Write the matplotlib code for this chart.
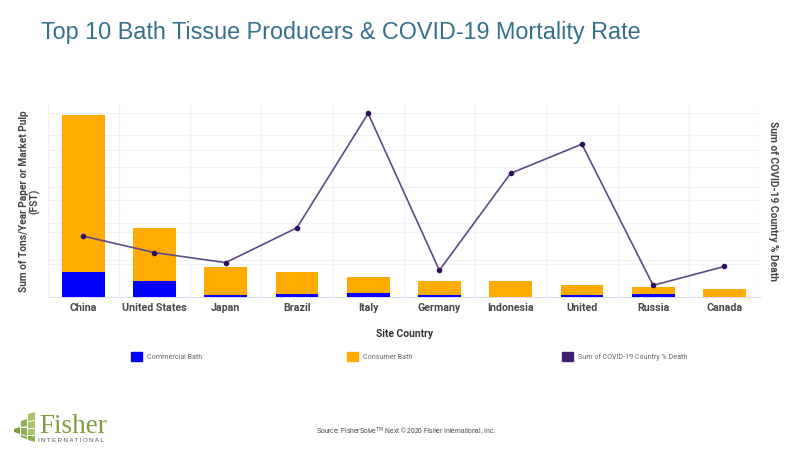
import matplotlib
matplotlib.use("Agg")
import matplotlib.pyplot as plt
from matplotlib.patches import Polygon

countries = ["China", "United States", "Japan", "Brazil", "Italy", "Germany", "Indonesia", "United", "Russia", "Canada"]
commercial = [0.77, 0.48, 0.05, 0.08, 0.11, 0.05, 0.0, 0.04, 0.09, 0.0]
consumer = [4.86, 1.65, 0.86, 0.68, 0.50, 0.43, 0.48, 0.31, 0.21, 0.23]
mortality = [3.3, 2.4, 1.85, 3.75, 10.0, 1.43, 6.73, 8.32, 0.61, 1.64]

plt.rcParams["font.family"] = ["Roboto", "DejaVu Sans"]
fig = plt.figure(figsize=(8, 4.5), dpi=100)
W, H = 800, 450
ax = fig.add_axes([47.5 / W, 1 - 296.5 / H, 712.5 / W, 191.5 / H])
ax3 = ax.twinx()   # right-axis gridlines, behind the bars
ax2 = ax.twinx()   # line, above the bars
ax3.set_zorder(0)
ax.set_zorder(1)
ax2.set_zorder(2)
ax.patch.set_visible(False)
ax2.patch.set_visible(False)
x = list(range(len(countries)))

grid = "#f0f0f5"
b1 = ax.bar(x, commercial, width=0.6, color="#0000ff", zorder=3, label="Commercial Bath")
b2 = ax.bar(x, consumer, width=0.6, bottom=commercial, color="#ffab00", zorder=3, label="Consumer Bath")
ax.set_xlim(-0.5, 9.5)
ax.set_ylim(0, 5.93)
ax.set_yticks(range(1, 6))
ax.set_xticks(x)
ax.set_xticklabels(countries, fontsize=7.7, fontweight="bold", color="#4a4a4a")
ax.set_xticks([i + 0.5 for i in range(-1, 10)], minor=True)
ax.grid(True, axis="y", color=grid, lw=0.8, zorder=0)
ax.grid(True, axis="x", which="minor", color=grid, lw=1, zorder=0)
ax.grid(False, axis="x", which="major")
ax.tick_params(axis="both", which="both", length=0, labelleft=False)
ax.tick_params(axis="x", pad=5)
for s in ["top", "left", "right"]:
    ax.spines[s].set_visible(False)
ax.spines["bottom"].set_color("#dcdcf0")

for a in (ax2, ax3):
    a.set_ylim(0, 10.46)
    a.set_yticks(range(2, 11, 2))
    a.tick_params(axis="y", length=0, labelright=False)
    for s in ["top", "left", "right", "bottom"]:
        a.spines[s].set_visible(False)
ax3.grid(True, axis="y", color=grid, lw=0.8, zorder=0)
line, = ax2.plot(x, mortality, color="#5f4a85", lw=1.2, marker="o", ms=3,
                 mfc="#2e0f5e", mec="#2e0f5e", zorder=5, label="Sum of COVID-19 Country % Death")

fig.text(41 / W, 1 - 32 / H, "Top 10 Bath Tissue Producers & COVID-19 Mortality Rate",
         fontsize=16.85, color="#33708a", family="Liberation Sans", va="center", ha="left")
fig.text(24 / W, 1 - 201 / H, "Sum of Tons/Year Paper or Market Pulp", rotation=90, fontsize=7.3,
         fontweight="bold", color="#444444", ha="center", va="center")
fig.text(35 / W, 1 - 201 / H, "(FST)", rotation=90, fontsize=7.3,
         fontweight="bold", color="#444444", ha="center", va="center")
fig.text(773 / W, 1 - 201 / H, "Sum of COVID-19 Country % Death", rotation=270, fontsize=7.4,
         fontweight="bold", color="#444444", ha="center", va="center")
fig.text(404 / W, 1 - 334 / H, "Site Country", fontsize=7.4, fontweight="bold",
         color="#333333", ha="center", va="center")

swatch_b = plt.Rectangle((0, 0), 1, 1, color="#0000ff")
swatch_o = plt.Rectangle((0, 0), 1, 1, color="#ffab00")
swatch_p = plt.Rectangle((0, 0), 1, 1, color="#3f1f6e")
for handle, lab, px in [(swatch_b, "Commercial Bath", 131),
                        (swatch_o, "Consumer Bath", 347),
                        (swatch_p, "Sum of COVID-19 Country % Death", 562)]:
    fig.legend([handle], [lab], loc="center left", bbox_to_anchor=(px / W, 1 - 356.5 / H),
               frameon=False, fontsize=5.1, labelcolor="#666666", handlelength=1.5,
               handleheight=1.5, handletextpad=0.7, borderpad=0, borderaxespad=0)

fig.text(316 / W, 1 - 432 / H, "Source: FisherSolve$^{\\mathrm{TM}}$ Next © 2020 Fisher International, Inc.",
         fontsize=4.8, color="#444444", family="Liberation Sans", ha="left", va="center")

# logo
logo = fig.add_axes([0, 0, 1, 1], facecolor="none")
logo.set_zorder(3)
logo.set_xlim(0, W); logo.set_ylim(H, 0); logo.axis("off")
tiles = [
    ([(28, 414), (35, 412), (35, 420), (28, 421)], "#a5c46a"),
    ([(21, 421), (27, 419), (27, 426), (21, 427)], "#8db04f"),
    ([(28, 422), (35, 421), (35, 428), (28, 428)], "#a5c46a"),
    ([(14, 429), (20, 427), (20, 434), (14, 432)], "#7d9f3f"),
    ([(21, 428), (27, 428), (27, 436), (21, 434)], "#8db04f"),
    ([(28, 429), (35, 429), (35, 435), (28, 435)], "#a5c46a"),
    ([(21, 435), (27, 437), (27, 439), (21, 437)], "#7d9f3f"),
    ([(28, 436), (35, 436), (35, 442), (28, 440)], "#8db04f"),
]
for t, c in tiles:
    logo.add_patch(Polygon(t, closed=True, color=c, lw=0))
logo.text(39, 433, "Fisher", fontsize=19.5, family="Liberation Serif", color="#7f9f3e", va="baseline", ha="left")
logo.text(38, 441.5, "\u2009".join("INTERNATIONAL"), fontsize=4.6, family="Liberation Sans",
          color="#555555", va="baseline", ha="left")

fig.savefig("out.png", dpi=100)
